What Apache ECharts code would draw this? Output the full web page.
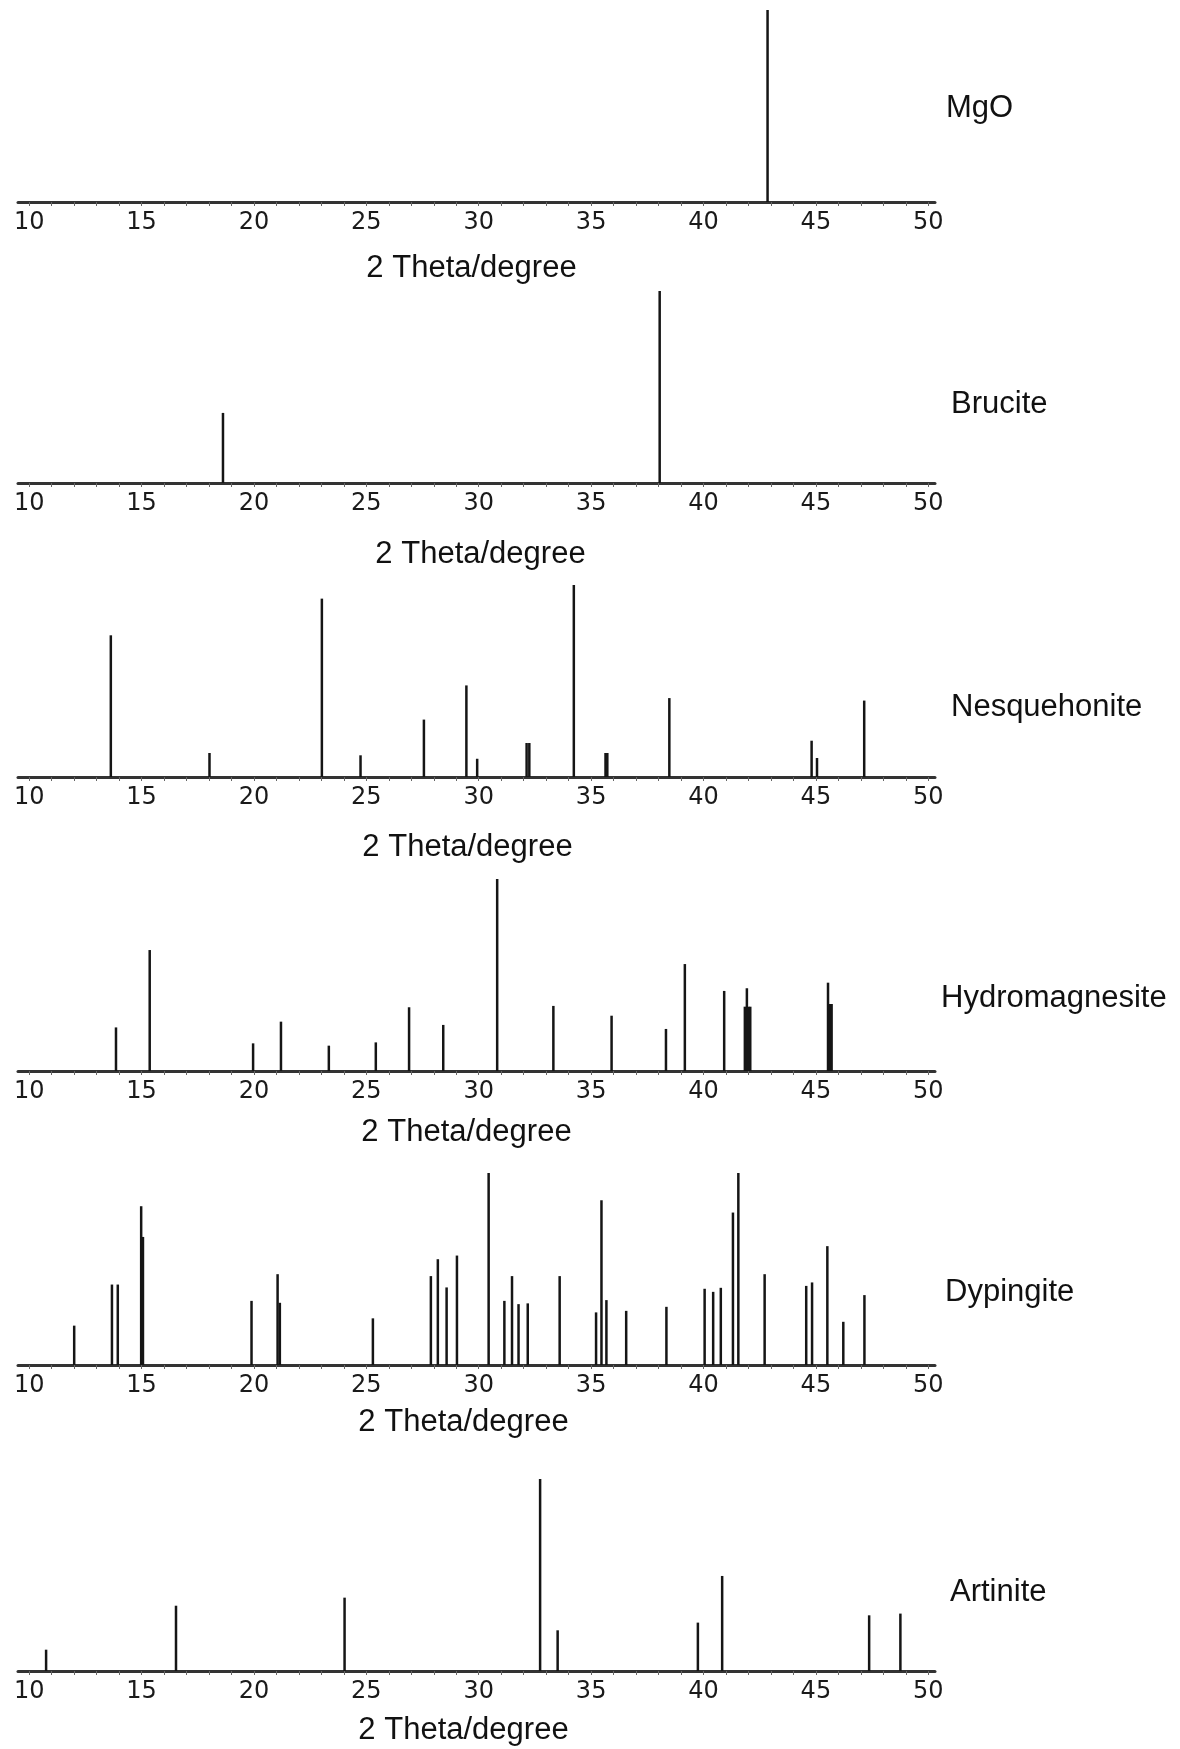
<!DOCTYPE html>
<html lang="en">
<head>
  <meta charset="UTF-8">
  <script src="https://cdn.jsdelivr.net/npm/echarts@6/dist/echarts.min.js"></script>
  <title>XRD reference patterns</title>
  <style>
    html, body { margin: 0; padding: 0; background: #fff; }
    #chart { width: 1180px; height: 1749px; }
  </style>
</head>
<body>
  <div id="chart"></div>
  <script>
    // phases, top to bottom
    const phaseNames = ['MgO', 'Brucite', 'Nesquehonite', 'Hydromagnesite', 'Dypingite', 'Artinite'];

    // 2 theta (degree) and relative intensity (%) of each reference line
    const mgoTheta = [42.85];
    const mgoInt = [100];

    const bruciteTheta = [18.62, 38.05];
    const bruciteInt = [36.5, 100];

    const nesqTheta = [13.63, 18.02, 23.02, 24.74, 27.56, 29.45, 29.93, 32.13, 32.25, 34.23, 35.64, 35.72, 38.48, 44.81, 45.05, 47.15];
    const nesqInt = [73.8, 12.5, 92.9, 11.3, 29.9, 47.7, 9.5, 17.7, 17.7, 100, 12.5, 12.5, 41.1, 18.9, 9.9, 39.8];

    const hydroTheta = [13.86, 15.36, 19.96, 21.2, 23.33, 25.42, 26.9, 28.42, 30.82, 33.32, 35.91, 38.33, 39.17, 40.92, 41.84, 41.93, 41.99, 42.08, 45.54, 45.62, 45.7];
    const hydroInt = [22.7, 63.0, 14.4, 25.7, 13.2, 14.9, 33.2, 24.0, 100, 33.9, 28.8, 21.9, 55.7, 41.7, 33.5, 43.1, 33.5, 33.5, 46.0, 34.9, 34.9];

    const dypTheta = [12.0, 13.68, 13.94, 14.98, 15.06, 19.89, 21.05, 21.15, 25.29, 27.87, 28.18, 28.57, 29.03, 30.44, 31.14, 31.48, 31.77, 32.18, 33.6, 35.22, 35.46, 35.68, 36.56, 38.35, 40.05, 40.43, 40.77, 41.31, 41.55, 42.72, 44.57, 44.83, 45.51, 46.22, 47.16];
    const dypInt = [20.5, 41.9, 41.9, 82.7, 66.7, 33.4, 47.3, 32.4, 24.3, 46.3, 55.1, 40.4, 57.0, 100, 33.4, 46.3, 31.7, 32.1, 46.3, 27.4, 85.8, 33.8, 28.2, 30.3, 39.7, 38.1, 40.2, 79.4, 100, 47.3, 41.2, 43.0, 61.9, 22.5, 36.4];

    const artTheta = [10.75, 16.53, 24.03, 32.73, 33.51, 39.75, 40.83, 47.37, 48.76];
    const artInt = [11.1, 34.0, 38.2, 100, 21.2, 25.2, 49.5, 29.0, 29.9];

    const thetaSets = [mgoTheta, bruciteTheta, nesqTheta, hydroTheta, dypTheta, artTheta];
    const intSets = [mgoInt, bruciteInt, nesqInt, hydroInt, dypInt, artInt];

    const tickLabels = [10, 15, 20, 25, 30, 35, 40, 45, 50];
    const minorTicks = [10, 11, 12, 13, 14, 15, 16, 17, 18, 19, 20, 21, 22, 23, 24, 25, 26, 27, 28, 29, 30,
                        31, 32, 33, 34, 35, 36, 37, 38, 39, 40, 41, 42, 43, 44, 45, 46, 47, 48, 49, 50];

    // layout of the six stacked panels (pixels)
    const axisY = [202, 483, 777, 1071, 1365, 1671];
    const plotH = 192;
    const titleGap = [51, 56, 55, 46, 42, 44];
    const titleShift = [-5, 4, -9, -10, -13, -13];
    const namePos = [[946, 108], [951, 404], [951, 707], [941, 998], [945, 1292], [950, 1592]];

    const chart = echarts.init(document.getElementById('chart'));

    const grids = [], xAxes = [], yAxes = [], series = [], graphics = [];

    phaseNames.forEach((name, i) => {
      grids.push({ left: 18, width: 917, top: axisY[i] - plotH, height: plotH });

      const dx = titleShift[i];
      xAxes.push({
        type: 'value',
        gridIndex: i,
        min: 9.5,
        max: 50.3,
        axisLine: { show: true, onZero: false, lineStyle: { color: '#333', width: 3 } },
        axisTick: { show: true, customValues: minorTicks, length: 4, lineStyle: { color: '#666', width: 1 } },
        axisLabel: { customValues: tickLabels, fontFamily: 'DejaVu Sans', fontSize: 24, color: '#1a1a1a', margin: 9 },
        splitLine: { show: false },
        name: '2 Theta/degree',
        nameLocation: 'middle',
        nameGap: titleGap[i],
        nameTextStyle: {
          fontFamily: 'Liberation Sans',
          fontSize: 31,
          color: '#111',
          padding: [0, dx < 0 ? -2 * dx : 0, 0, dx > 0 ? 2 * dx : 0]
        }
      });

      yAxes.push({ type: 'value', gridIndex: i, min: 0, max: 100, show: false });

      series.push({
        type: 'bar',
        xAxisIndex: i,
        yAxisIndex: i,
        barWidth: 2.5,
        silent: true,
        itemStyle: { color: '#151515' },
        data: thetaSets[i].map((t, k) => [t, intSets[i][k]])
      });

      graphics.push({
        type: 'text',
        x: namePos[i][0],
        y: namePos[i][1],
        style: {
          text: name,
          fontFamily: 'Liberation Sans',
          fontSize: 31,
          fill: '#111',
          verticalAlign: 'middle'
        }
      });
    });

    chart.setOption({
      animation: false,
      backgroundColor: '#fff',
      grid: grids,
      xAxis: xAxes,
      yAxis: yAxes,
      series: series,
      graphic: graphics
    });
  </script>
</body>
</html>
